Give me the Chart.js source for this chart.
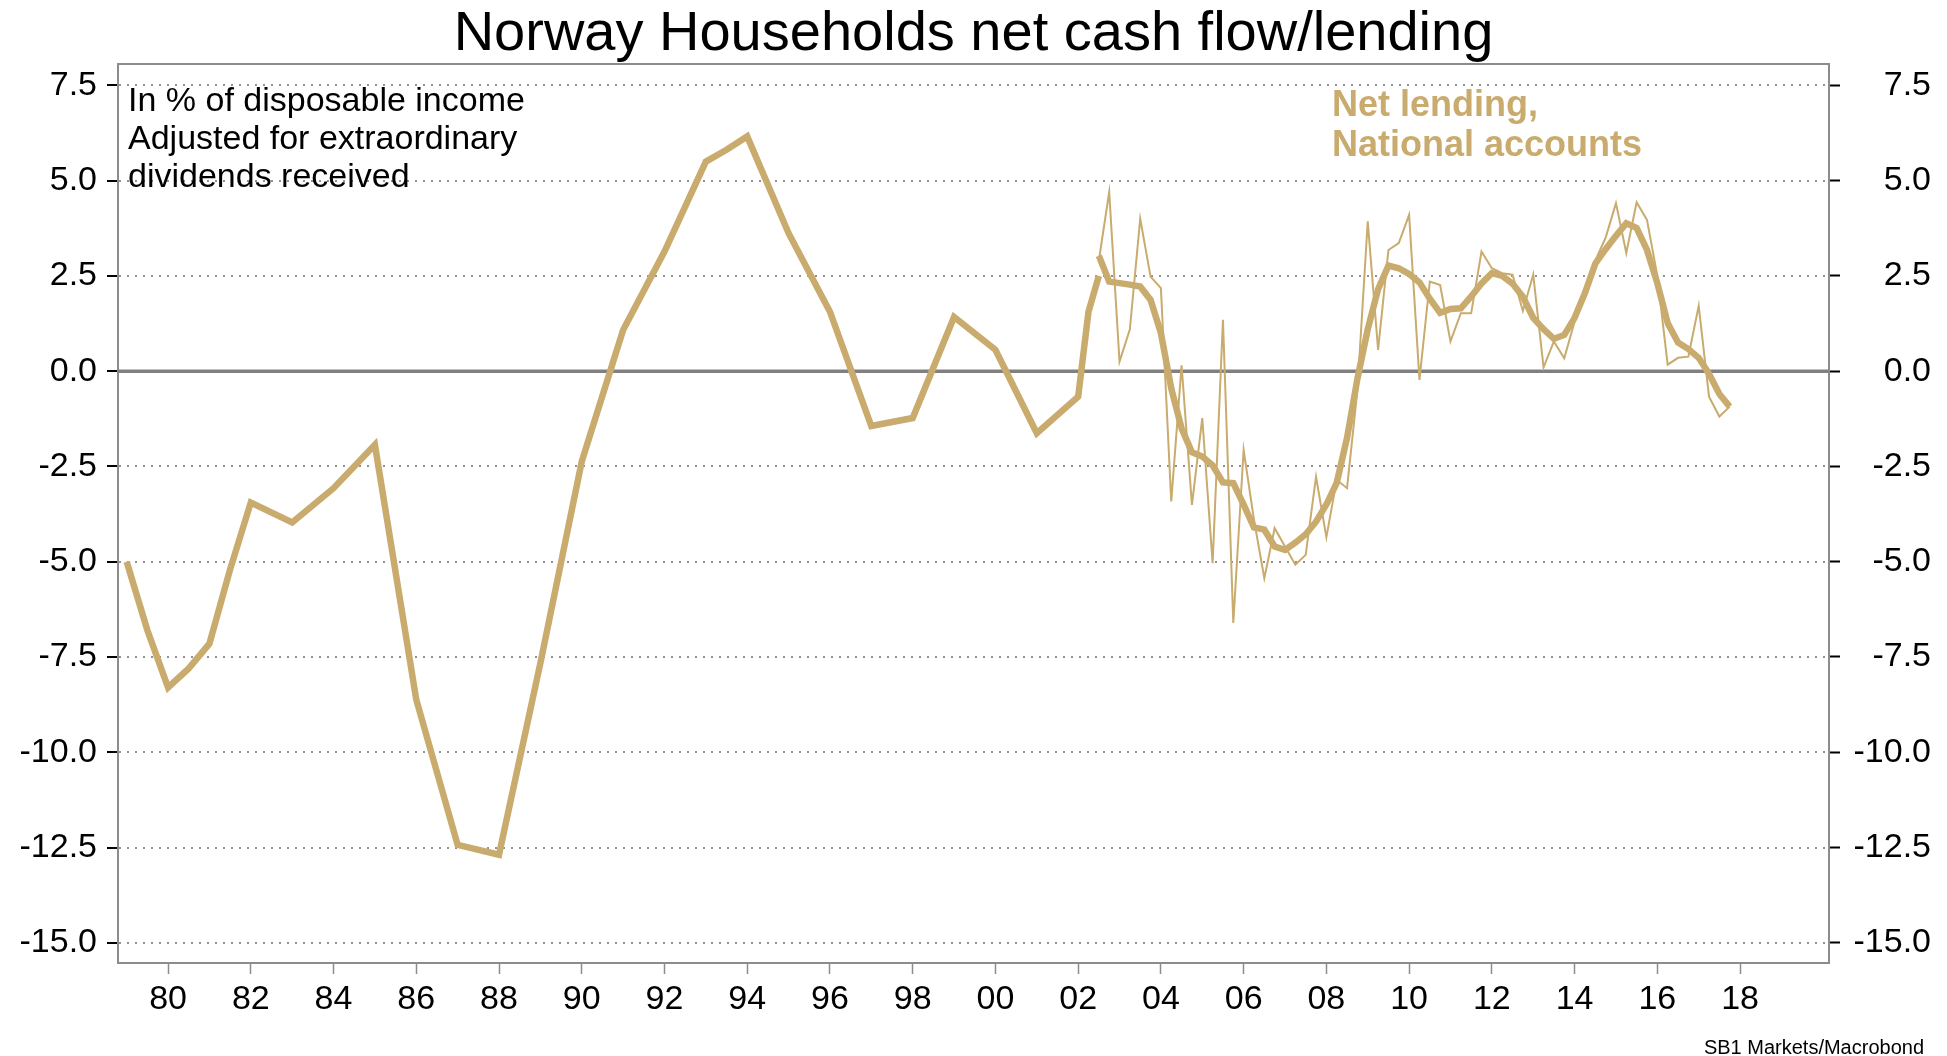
<!DOCTYPE html>
<html>
<head>
<meta charset="utf-8">
<title>Norway Households net cash flow/lending</title>
<script src="https://cdn.jsdelivr.net/npm/chart.js@4/dist/chart.umd.min.js"></script>
<style>
  html, body { margin: 0; padding: 0; background: #ffffff; }
  #wrap { width: 1947px; height: 1056px; }
</style>
</head>
<body>
<div id="wrap"><canvas id="chart" width="1947" height="1056"></canvas></div>
<script>
// Net cash flow, annual series (decimal year positions, % of disposable income)
const annualX = [1979, 1979.5, 1980, 1980.5, 1981, 1981.5, 1982, 1983, 1984, 1985,
                 1986, 1987, 1988, 1989, 1990, 1991, 1992, 1993, 1993.5, 1994,
                 1995, 1996, 1997, 1998, 1999, 2000, 2001, 2002, 2002.25, 2002.5];
const annualValues = [-5.0, -6.8, -8.3, -7.8, -7.15, -5.2, -3.45, -3.97, -3.07, -1.93,
                      -8.62, -12.43, -12.69, -7.66, -2.37, 1.08, 3.14, 5.50, 5.81, 6.16,
                      3.62, 1.56, -1.44, -1.23, 1.42, 0.56, -1.63, -0.67, 1.56, 2.5];

// Quarterly periods for the national accounts net lending series
const quarters = [
  '2002Q3','2002Q4',
  '2003Q1','2003Q2','2003Q3','2003Q4','2004Q1','2004Q2','2004Q3','2004Q4',
  '2005Q1','2005Q2','2005Q3','2005Q4','2006Q1','2006Q2','2006Q3','2006Q4',
  '2007Q1','2007Q2','2007Q3','2007Q4','2008Q1','2008Q2','2008Q3','2008Q4',
  '2009Q1','2009Q2','2009Q3','2009Q4','2010Q1','2010Q2','2010Q3','2010Q4',
  '2011Q1','2011Q2','2011Q3','2011Q4','2012Q1','2012Q2','2012Q3','2012Q4',
  '2013Q1','2013Q2','2013Q3','2013Q4','2014Q1','2014Q2','2014Q3','2014Q4',
  '2015Q1','2015Q2','2015Q3','2015Q4','2016Q1','2016Q2','2016Q3','2016Q4',
  '2017Q1','2017Q2','2017Q3','2017Q4'
];

// Net lending, national accounts, quarterly
const lendingQuarterly = [
  2.9, 4.7,
  0.25, 1.1, 4.0, 2.48, 2.18, -3.42, 0.15, -3.51,
  -1.23, -5.04, 1.35, -6.61, -2.07, -3.9, -5.43, -4.12,
  -4.6, -5.08, -4.82, -2.77, -4.36, -2.85, -3.07, -0.5,
  3.93, 0.56, 3.18, 3.36, 4.10, -0.23, 2.35, 2.26,
  0.78, 1.52, 1.52, 3.14, 2.70, 2.57, 2.53, 1.58,
  2.53, 0.1, 0.78, 0.34, 1.3, 2.0, 2.9, 3.5,
  4.41, 3.10, 4.43, 3.97, 2.5, 0.17, 0.35, 0.38,
  1.71, -0.67, -1.19, -0.93
];

// Net lending, national accounts, smoothed
const lendingSmoothed = [
  3.03, 2.35,
  2.31, 2.27, 2.22, 1.87, 1.0, -0.45, -1.5, -2.13,
  -2.24, -2.47, -2.92, -2.94, -3.5, -4.1, -4.16, -4.6,
  -4.69, -4.5, -4.28, -3.95, -3.5, -2.93, -1.75, -0.2,
  1.1, 2.15, 2.77, 2.7, 2.55, 2.33, 1.9, 1.53,
  1.63, 1.65, 1.96, 2.3, 2.57, 2.5, 2.3, 1.95,
  1.4, 1.1, 0.85, 0.95, 1.4, 2.05, 2.82, 3.2,
  3.55, 3.88, 3.76, 3.18, 2.31, 1.26, 0.75, 0.58,
  0.35, -0.07, -0.6, -0.93
];

// Axis ticks
const xTickYears = [1980, 1982, 1984, 1986, 1988, 1990, 1992, 1994, 1996, 1998,
                    2000, 2002, 2004, 2006, 2008, 2010, 2012, 2014, 2016, 2018];
const yTickValues = [-15, -12.5, -10, -7.5, -5, -2.5, 0, 2.5, 5, 7.5];

// Texts
const titleText = 'Norway Households net cash flow/lending';
const noteLines = ['In % of disposable income', 'Adjusted for extraordinary', 'dividends received'];
const seriesLabelLines = ['Net lending,', 'National accounts'];
const sourceText = 'SB1 Markets/Macrobond';

// Scale ranges
const X_MIN = 1978.79, X_MAX = 2020.15;
const Y_MIN = -15.53, Y_MAX = 8.06;

const FONT = '"Liberation Sans", Arial, Helvetica, sans-serif';
const GOLD = '#C9AB6E';
const FRAME = '#8c8c8c';

const quarterToYear = q => Number(q.slice(0, 4)) + (Number(q.slice(5)) - 1) / 4;
const toPoints = (xs, ys) => xs.map((x, i) => ({ x: x, y: ys[i] }));
const quarterX = quarters.map(quarterToYear);

// Title centred on the page, frame top edge and text blocks
const decorations = {
  id: 'decorations',
  afterDraw(chart) {
    const { ctx, chartArea: a } = chart;
    ctx.save();
    ctx.strokeStyle = FRAME;
    ctx.lineWidth = 2;
    ctx.beginPath();
    ctx.moveTo(a.left - 1, a.top);
    ctx.lineTo(a.right + 1, a.top);
    ctx.stroke();

    ctx.textBaseline = 'alphabetic';
    ctx.textAlign = 'center';
    ctx.fillStyle = '#000000';
    ctx.font = '56px ' + FONT;
    ctx.fillText(titleText, chart.width / 2, 50);

    ctx.textAlign = 'left';
    ctx.font = '34px ' + FONT;
    noteLines.forEach((t, i) => ctx.fillText(t, a.left + 10, a.top + 47 + i * 38));

    ctx.fillStyle = GOLD;
    ctx.font = 'bold 36px ' + FONT;
    seriesLabelLines.forEach((t, i) => ctx.fillText(t, a.left + 1214, a.top + 52 + i * 40));

    ctx.fillStyle = '#000000';
    ctx.font = '20px ' + FONT;
    ctx.textAlign = 'right';
    ctx.fillText(sourceText, chart.width - 23, chart.height - 2);
    ctx.restore();
  }
};

const tickFont = { family: FONT, size: 34 };

new Chart(document.getElementById('chart'), {
  type: 'line',
  data: {
    datasets: [
      {
        label: 'Net cash flow',
        data: toPoints(annualX, annualValues),
        borderColor: GOLD, borderWidth: 6.5, pointRadius: 0, tension: 0, order: 0
      },
      {
        label: 'Net lending, smoothed',
        data: toPoints(quarterX, lendingSmoothed),
        borderColor: GOLD, borderWidth: 6.5, pointRadius: 0, tension: 0, order: 0
      },
      {
        label: 'Net lending, National accounts',
        data: toPoints(quarterX, lendingQuarterly),
        borderColor: GOLD, borderWidth: 2, pointRadius: 0, tension: 0, order: 1
      },
      {
        label: 'Zero',
        data: [{ x: X_MIN, y: 0 }, { x: X_MAX, y: 0 }],
        borderColor: '#808080', borderWidth: 3.5, pointRadius: 0, order: 2
      }
    ]
  },
  options: {
    responsive: false,
    animation: false,
    events: [],
    layout: { padding: { left: 0, right: 16, top: 64, bottom: 0 } },
    plugins: {
      legend: { display: false },
      tooltip: { enabled: false },
      title: { display: false }
    },
    scales: {
      x: {
        type: 'linear',
        position: 'bottom',
        min: X_MIN,
        max: X_MAX,
        afterFit: s => { s.height = 93; },
        afterBuildTicks: s => { s.ticks = xTickYears.map(v => ({ value: v })); },
        ticks: {
          callback: v => String(v % 100).padStart(2, '0'),
          font: tickFont,
          color: '#000000',
          padding: 5,
          maxRotation: 0,
          autoSkip: false
        },
        grid: { drawOnChartArea: false, tickLength: 11, tickColor: FRAME, tickWidth: 1.5 },
        border: { display: true, color: FRAME, width: 2 }
      },
      y: {
        type: 'linear',
        position: 'left',
        min: Y_MIN,
        max: Y_MAX,
        afterFit: s => { s.width = 118; },
        afterBuildTicks: s => { s.ticks = yTickValues.map(v => ({ value: v })); },
        ticks: {
          callback: v => v.toFixed(1),
          font: tickFont,
          color: '#000000',
          padding: 10,
          autoSkip: false
        },
        grid: { color: '#919191', lineWidth: 2, tickLength: 11, tickColor: '#000000', tickWidth: 2 },
        border: { display: true, color: FRAME, width: 2, dash: [2, 6] }
      },
      y2: {
        type: 'linear',
        position: 'right',
        min: Y_MIN,
        max: Y_MAX,
        afterFit: s => { s.width = 102; },
        afterBuildTicks: s => { s.ticks = yTickValues.map(v => ({ value: v })); },
        ticks: {
          callback: v => v.toFixed(1),
          font: tickFont,
          color: '#000000',
          padding: 10,
          crossAlign: 'far',
          autoSkip: false
        },
        grid: { drawOnChartArea: false, tickLength: 11, tickColor: '#000000', tickWidth: 2 },
        border: { display: true, color: FRAME, width: 2 }
      }
    }
  },
  plugins: [decorations]
});
</script>
</body>
</html>
